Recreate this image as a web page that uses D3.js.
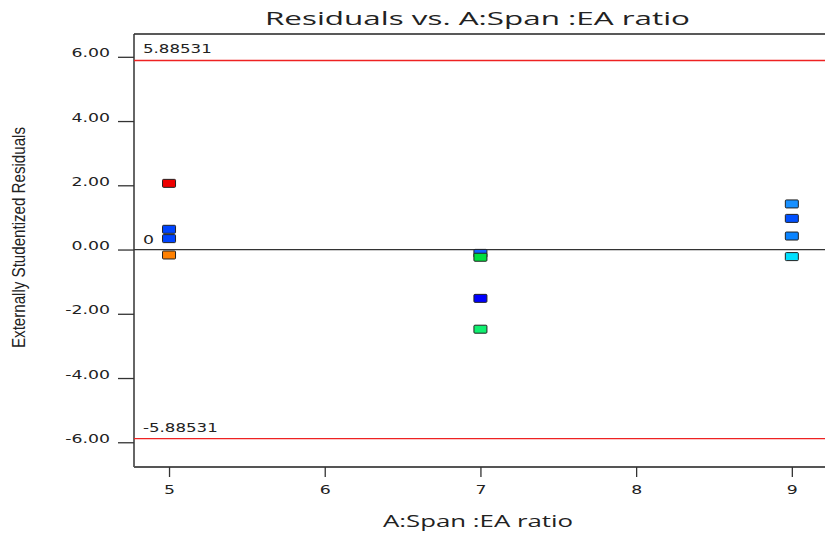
<!DOCTYPE html>
<html>
<head>
<meta charset="utf-8">
<script src="https://cdn.jsdelivr.net/npm/d3@7"></script>
<style>
  body { margin: 0; background: #fff; }
  svg { display: block; }
  text { font-family: "DejaVu Sans", sans-serif; fill: #222; }
</style>
</head>
<body>
<svg id="chart" width="825" height="536"></svg>
<script>
// Residuals by factor level (A: Span : EA ratio)
const spanRatio = [5, 5, 5, 5, 7, 7, 7, 7, 9, 9, 9, 9];
const residuals = [2.06, 0.63, 0.34, -0.17, -0.12, -0.24, -1.52, -2.48, 1.42, 0.97, 0.42, -0.22];
const pointColors = ["#ee0000", "#0044ff", "#0044ff", "#ff8000",
                     "#1060ff", "#00e040", "#0000ff", "#10f070",
                     "#1890ff", "#0050ff", "#0a84ff", "#00e0ff"];
const xTicks = [5, 6, 7, 8, 9];
const yTicks = [-6, -4, -2, 0, 2, 4, 6];
const limitValue = 5.88531;
const limitLabels = ["5.88531", "-5.88531"];

const svg = d3.select("#chart");
const plotLeft = 134, plotTop = 34, plotBottom = 467, plotRight = 825;
const wide = 1.33; // horizontal stretch applied to label glyphs

// Widen each text of a selection by a factor while keeping its anchor
function widen(sel, factor) {
  sel.each(function () {
    const w = this.getComputedTextLength();
    d3.select(this).attr("textLength", w * factor).attr("lengthAdjust", "spacingAndGlyphs");
  });
}

const x = d3.scaleLinear().domain([4.775, 9.225]).range([plotLeft, plotLeft + (9.225 - 4.775) * 155.7]);
const y = d3.scaleLinear().domain([-6.77, 6.71]).range([plotBottom, plotTop]);

// Title
svg.append("text")
  .attr("x", 477.5).attr("y", 25)
  .attr("text-anchor", "middle")
  .style("font-family", "'Open Sans', sans-serif")
  .style("font-size", "18.5px")
  .attr("textLength", 425)
  .attr("lengthAdjust", "spacingAndGlyphs")
  .attr("fill", "#222")
  .text("Residuals vs. A:Span :EA ratio");

// Frame: top border
svg.append("line")
  .attr("x1", plotLeft).attr("x2", plotRight).attr("y1", plotTop).attr("y2", plotTop)
  .attr("stroke", "#222").attr("stroke-width", 1.5);

// Y axis
const yAxis = svg.append("g")
  .attr("transform", `translate(${plotLeft},0)`)
  .call(d3.axisLeft(y).tickValues(yTicks).tickFormat(d => d.toFixed(2)).tickSize(16).tickPadding(8));
yAxis.select(".domain").attr("stroke", "#333").attr("stroke-width", 1.5).attr("d", `M0,${plotTop}V${plotBottom}`);
yAxis.selectAll(".tick line").attr("stroke", "#333").attr("stroke-width", 1.3);
yAxis.selectAll(".tick text").style("font-size", "13px").attr("fill", "#333").attr("dy", "0").call(widen, wide);

// X axis
const xAxis = svg.append("g")
  .attr("transform", `translate(0,${plotBottom})`)
  .call(d3.axisBottom(x).tickValues(xTicks).tickFormat(d3.format("d")).tickSize(10).tickPadding(10));
xAxis.select(".domain").attr("stroke", "#555").attr("stroke-width", 2).attr("d", `M${plotLeft},0H${plotRight}`);
xAxis.selectAll(".tick line").attr("stroke", "#333").attr("stroke-width", 1.3);
xAxis.selectAll(".tick text").style("font-size", "13px").attr("fill", "#333")
  .attr("y", 27).attr("dy", "0").call(widen, wide);

// Axis titles
svg.append("text")
  .attr("x", 478).attr("y", 527)
  .attr("text-anchor", "middle")
  .style("font-family", "'Open Sans', sans-serif")
  .style("font-size", "16.5px")
  .attr("textLength", 190)
  .attr("lengthAdjust", "spacingAndGlyphs")
  .attr("fill", "#333")
  .text("A:Span :EA ratio");

svg.append("text")
  .attr("transform", "translate(25,237.5) rotate(-90)")
  .attr("text-anchor", "middle")
  .style("font-family", "'Liberation Sans', sans-serif")
  .style("font-size", "18.5px")
  .attr("textLength", 221)
  .attr("lengthAdjust", "spacingAndGlyphs")
  .attr("fill", "#111")
  .text("Externally Studentized Residuals");

// Zero reference line
svg.append("line")
  .attr("x1", plotLeft).attr("x2", plotRight).attr("y1", y(0)).attr("y2", y(0))
  .attr("stroke", "#333").attr("stroke-width", 1.3);

// Outlier limits
[limitValue, -limitValue].forEach((v, i) => {
  svg.append("line")
    .attr("x1", plotLeft).attr("x2", plotRight).attr("y1", y(v)).attr("y2", y(v))
    .attr("stroke", "#ee2222").attr("stroke-width", 1.3);
  svg.append("text")
    .attr("x", plotLeft + 9).attr("y", y(v) - 7)
    .style("font-size", "12.5px")
    .attr("fill", "#222")
    .text(limitLabels[i])
    .call(widen, wide);
});

// Count label beside the stacked points at level 5
svg.append("text")
  .attr("x", x(5) - 26).attr("y", y(0) - 6)
  .style("font-size", "13px")
  .attr("fill", "#333")
  .text("0")
  .call(widen, wide);

// Residual points
svg.append("g").selectAll("rect")
  .data(residuals)
  .join("rect")
  .attr("x", (d, i) => x(spanRatio[i]) - 6.5)
  .attr("y", d => y(d) - 4)
  .attr("width", 13).attr("height", 8)
  .attr("rx", 1)
  .attr("fill", (d, i) => pointColors[i])
  .attr("stroke", "#222").attr("stroke-width", 1);
</script>
</body>
</html>
